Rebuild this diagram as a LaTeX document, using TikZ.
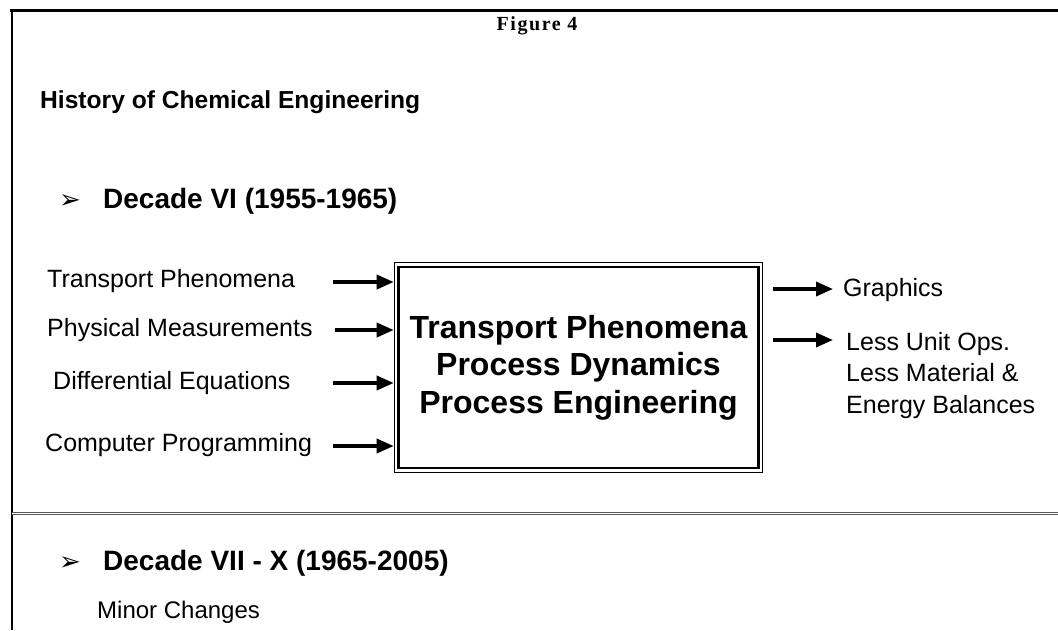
\documentclass[tikz,border=0pt]{standalone}
\usepackage{fontspec}
\setmainfont{Liberation Sans}
\newfontfamily\serifb{Liberation Serif}[LetterSpace=8]
\newfontfamily\dejavu{DejaVu Sans}
\usetikzlibrary{arrows.meta,fit}
\tikzset{
  lbl/.style={anchor=base west, inner sep=0pt, font=\fontsize{25}{31.5}\selectfont},
  head/.style={anchor=base west, inner sep=0pt, font=\fontsize{28}{32}\selectfont\bfseries},
  bullet/.style={anchor=base west, inner sep=0pt, font=\dejavu\fontsize{26}{30}\selectfont},
  arr/.style={line width=3.5pt, -{Triangle[length=17pt,width=14pt]}},
}
\begin{document}
\begin{tikzpicture}[x=1pt,y=-1pt]
\useasboundingbox (0,0) rectangle (1058,630);
\fill[white] (0,0) rectangle (1058,630);
% page frame lines
\draw[line width=3pt] (10,10) -- (1058,10);
\draw[line width=2.5pt] (12,10) -- (12,630);
% headings
\node[anchor=base, inner sep=0pt, font=\serifb\fontsize{20}{24}\selectfont\bfseries] (fig) at (537,30) {Figure 4};
\node[anchor=base west, inner sep=0pt, font=\fontsize{24.6}{28}\selectfont\bfseries] (title) at (40,108) {History of Chemical Engineering};
\node[bullet] (b1) at (59,208) {➢};
\node[head] (d6) at (103,208) {Decade VI (1955-1965)};
% central box
\node[draw, line width=2.2pt, minimum width=360pt, minimum height=201pt, align=center,
      font=\fontsize{32}{37.5}\selectfont\bfseries, inner sep=0pt] (box) at (578.5,367.5)
      {Transport Phenomena\\Process Dynamics\\Process Engineering};
\node[draw, line width=1pt, fit=(box), inner sep=3.2pt] (frame) {};
% inputs
\node[lbl] (in1) at (47,287) {Transport Phenomena};
\node[lbl] (in2) at (47,336) {Physical Measurements};
\node[lbl] (in3) at (53,389) {Differential Equations};
\node[lbl] (in4) at (45,451) {Computer Programming};
\coordinate (s1) at (333,282);
\coordinate (s2) at (335,330);
\coordinate (s3) at (333,383);
\coordinate (s4) at (333,446);
\foreach \s in {s1,s2,s3,s4} \draw[arr] (\s) -- (\s -| frame.west);
% outputs
\coordinate (o1) at (773,289);
\coordinate (o2) at (773,340);
\coordinate (e1) at (833,289);
\node[lbl] (out1) at (843,296) {Graphics};
\node[lbl, align=left] (out2) at (846,413)
      {Less Unit Ops.\\Less Material \&\\Energy Balances};
\draw[arr] (o1) -- (e1);
\draw[arr] (o2) -- (o2 -| e1);
% separator
\draw[double, double distance=1.6pt, line width=1pt, draw=black!65] (12,513.5) -- (1058,513.5);
% second section
\node[bullet] (b2) at (59,570) {➢};
\node[head] (d7) at (103,570) {Decade VII - X (1965-2005)};
\node[lbl, font=\fontsize{24}{28}\selectfont] (minor) at (97,618) {Minor Changes};
\end{tikzpicture}
\end{document}
